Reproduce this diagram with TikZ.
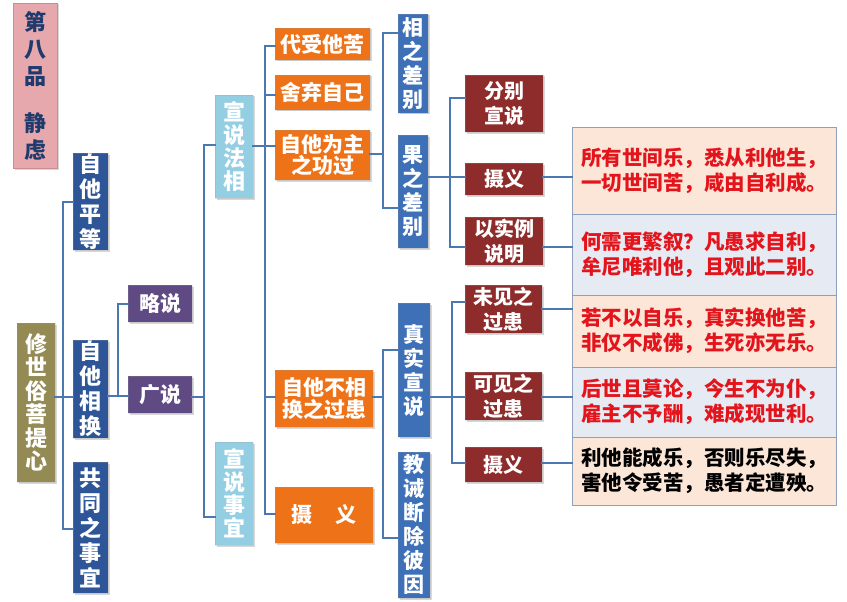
\documentclass[tikz,border=0pt]{standalone}
\usepackage{fontspec}
\setmainfont{Noto Sans CJK SC}
\usetikzlibrary{shadows}
\definecolor{cPink}{HTML}{E6A8AC}
\definecolor{cPinkB}{HTML}{C98C90}
\definecolor{cNavy}{HTML}{1F3B6E}
\definecolor{cOlive}{HTML}{948A54}
\definecolor{cDBlue}{HTML}{2D5597}
\definecolor{cPurple}{HTML}{5F4A84}
\definecolor{cLBlue}{HTML}{93CEE3}
\definecolor{cOrange}{HTML}{EE7318}
\definecolor{cMBlue}{HTML}{3E70B8}
\definecolor{cRed}{HTML}{8E2B2B}
\definecolor{cLine}{HTML}{4C78B2}
\definecolor{cPeach}{HTML}{FCE6D8}
\definecolor{cGrayB}{HTML}{E6EAF2}
\definecolor{cTabB}{HTML}{8FA0BD}
\definecolor{cTxtRed}{HTML}{E3141B}
\newcommand\mybox[7]{\node[#2,minimum width={(#5-#3)*1pt},minimum height={(#6-#4)*1pt}] (#1) at ({(#3+#5)/2},{(#4+#6)/2}) {#7};}
\tikzset{
 box/.style={inner sep=0pt, align=center, text=white, draw=white!60!black, draw opacity=0.25,
   drop shadow={shadow xshift=1.5pt, shadow yshift=-1.5pt, opacity=0.3}},
 titlebox/.style={box, fill=cPink, draw=cPinkB, draw opacity=1, text=cNavy, font=\bfseries\fontsize{22}{27}\selectfont},
 olivebox/.style={box, fill=cOlive, font=\bfseries\fontsize{22}{23.5}\selectfont},
 dbluebox/.style={box, fill=cDBlue, font=\bfseries\fontsize{22}{25}\selectfont},
 purplebox/.style={box, fill=cPurple, font=\bfseries\fontsize{21}{23}\selectfont},
 lbluebox/.style={box, fill=cLBlue, font=\bfseries\fontsize{22}{23}\selectfont},
 orangebox/.style={box, fill=cOrange, font=\bfseries\fontsize{21}{21.5}\selectfont},
 mbluebox/.style={box, fill=cMBlue, font=\bfseries\fontsize{21}{24}\selectfont},
 redbox/.style={box, fill=cRed, font=\bfseries\fontsize{20}{25}\selectfont},
 rowbox/.style={inner sep=0pt, align=center, draw=cTabB, line width=1pt, text=cTxtRed,
   font=\bfseries\fontsize{20.5}{25}\selectfont},
 conn/.style={draw=cLine, line width=2pt, line cap=rect},
}
\begin{document}
\begin{tikzpicture}[x=1pt,y=-1pt]
\useasboundingbox (0,0) rectangle (847,602);
\fill[white] (0,0) rectangle (847,602);
% left column
\mybox{title}{titlebox}{13}{3}{57}{168}{第\\八\\品\\[20pt]静\\虑}
\mybox{xiu}{olivebox}{17}{323}{55}{482}{修\\世\\俗\\菩\\提\\心}
\mybox{zp}{dbluebox}{73}{153}{108}{250}{自\\他\\平\\等}
\mybox{zh}{dbluebox}{73}{340}{108}{438}{自\\他\\相\\换}
\mybox{gt}{dbluebox}{73}{462}{108}{593}{共\\同\\之\\事\\宜}
\mybox{lue}{purplebox}{128}{285}{192}{322}{略说}
\mybox{guang}{purplebox}{128}{376}{192}{413}{广说}
\mybox{fa}{lbluebox}{215}{95}{253}{198}{宣\\说\\法\\相}
\mybox{shi}{lbluebox}{215}{442}{253}{545}{宣\\说\\事\\宜}
% orange
\mybox{o1}{orangebox}{275}{28}{370}{60}{代受他苦}
\mybox{o2}{orangebox}{275}{75}{370}{110}{舍弃自己}
\mybox{o3}{orangebox}{275}{130}{370}{180}{自他为主\\之功过}
\mybox{o4}{orangebox}{275}{370}{373}{427}{自他不相\\换之过患}
\mybox{o5}{orangebox}{275}{487}{373}{543}{摄\hspace{1.1em}义}
% blue
\mybox{xiang}{mbluebox}{398}{14}{428}{113}{相\\之\\差\\别}
\mybox{guo}{mbluebox}{398}{135}{428}{248}{果\\之\\差\\别}
\mybox{zhen}{mbluebox}{398}{303}{430}{437}{真\\实\\宣\\说}
\mybox{jiao}{mbluebox}{398}{452}{430}{598}{教\\诫\\断\\除\\彼\\因}
% red
\mybox{rb1}{redbox}{465}{75}{543}{132}{分别\\宣说}
\mybox{rb2}{redbox}{465}{163}{543}{195}{摄义}
\mybox{rb3}{redbox}{465}{217}{543}{265}{以实例\\说明}
\mybox{rb4}{redbox}{465}{285}{542}{333}{未见之\\过患}
\mybox{rb5}{redbox}{465}{372}{542}{420}{可见之\\过患}
\mybox{rb6}{redbox}{465}{447}{542}{482}{摄义}
% table
\mybox{t1}{rowbox,fill=cPeach}{572}{128}{836}{214}{所有世间乐，悉从利他生，\\一切世间苦，咸由自利成。}
\mybox{t2}{rowbox,fill=cGrayB}{572}{214}{836}{295}{何需更繁叙？凡愚求自利，\\牟尼唯利他，且观此二别。}
\mybox{t3}{rowbox,fill=cPeach}{572}{295}{836}{367}{若不以自乐，真实换他苦，\\非仅不成佛，生死亦无乐。}
\mybox{t4}{rowbox,fill=cGrayB}{572}{367}{836}{437}{后世且莫论，今生不为仆，\\雇主不予酬，难成现世利。}
\mybox{t5}{rowbox,fill=cPeach,text=black}{572}{437}{836}{505}{利他能成乐，否则乐尽失，\\害他令受苦，愚者定遭殃。}
% connectors
\coordinate (j1) at (63,397);
\draw[conn] (xiu.east |- j1) -- (j1);
\draw[conn] (j1 |- 0,202) -- (j1 |- 0,529);
\draw[conn] (j1 |- 0,202) -- (zp.west |- 0,202);
\draw[conn] (j1) -- (zh.west |- j1);
\draw[conn] (j1 |- 0,529) -- (gt.west |- 0,529);
\coordinate (j2) at (118,396);
\draw[conn] (zh.east |- j2) -- (j2);
\draw[conn] (j2 |- 0,304) -- (j2);
\draw[conn] (j2 |- 0,304) -- (lue.west |- 0,304);
\draw[conn] (j2) -- (guang.west |- j2);
\coordinate (j3) at (204,397);
\draw[conn] (guang.east |- j3) -- (j3);
\draw[conn] (j3 |- 0,145) -- (j3 |- 0,517);
\draw[conn] (j3 |- 0,145) -- (fa.west |- 0,145);
\draw[conn] (j3 |- 0,517) -- (shi.west |- 0,517);
\coordinate (j4) at (265,146);
\draw[conn] (fa.east |- j4) -- (j4);
\draw[conn] (j4 |- 0,46) -- (j4 |- 0,514);
\draw[conn] (j4 |- 0,46) -- (o1.west |- 0,46);
\draw[conn] (j4 |- 0,95) -- (o2.west |- 0,95);
\draw[conn] (j4) -- (o3.west |- j4);
\draw[conn] (j4 |- 0,397) -- (o4.west |- 0,397);
\draw[conn] (j4 |- 0,514) -- (o5.west |- 0,514);
\coordinate (j5) at (383,154);
\draw[conn] (o3.east |- j5) -- (j5);
\draw[conn] (j5 |- 0,33) -- (j5 |- 0,208);
\draw[conn] (j5 |- 0,33) -- (xiang.west |- 0,33);
\draw[conn] (j5 |- 0,208) -- (guo.west |- 0,208);
\coordinate (j6) at (383,397);
\draw[conn] (o4.east |- j6) -- (j6);
\draw[conn] (j6 |- 0,350) -- (j6 |- 0,538);
\draw[conn] (j6 |- 0,350) -- (zhen.west |- 0,350);
\draw[conn] (j6 |- 0,538) -- (jiao.west |- 0,538);
\coordinate (j7) at (450,177);
\draw[conn] (guo.east |- j7) -- (j7);
\draw[conn] (j7 |- 0,98) -- (j7 |- 0,247);
\draw[conn] (j7 |- 0,98) -- (rb1.west |- 0,98);
\draw[conn] (j7) -- (rb2.west |- j7);
\draw[conn] (j7 |- 0,247) -- (rb3.west |- 0,247);
\coordinate (j8) at (452,397);
\draw[conn] (zhen.east |- j8) -- (j8);
\draw[conn] (j8 |- 0,302) -- (j8 |- 0,463);
\draw[conn] (j8 |- 0,302) -- (rb4.west |- 0,302);
\draw[conn] (j8) -- (rb5.west |- j8);
\draw[conn] (j8 |- 0,463) -- (rb6.west |- 0,463);
\draw[conn] (rb2.east |- 0,177) -- (t1.west |- 0,177);
\draw[conn] (rb3.east |- 0,247) -- (t2.west |- 0,247);
\draw[conn] (rb4.east |- 0,309) -- (t3.west |- 0,309);
\draw[conn] (rb5.east |- 0,397) -- (t4.west |- 0,397);
\draw[conn] (rb6.east |- 0,463) -- (t5.west |- 0,463);
\end{tikzpicture}
\end{document}
